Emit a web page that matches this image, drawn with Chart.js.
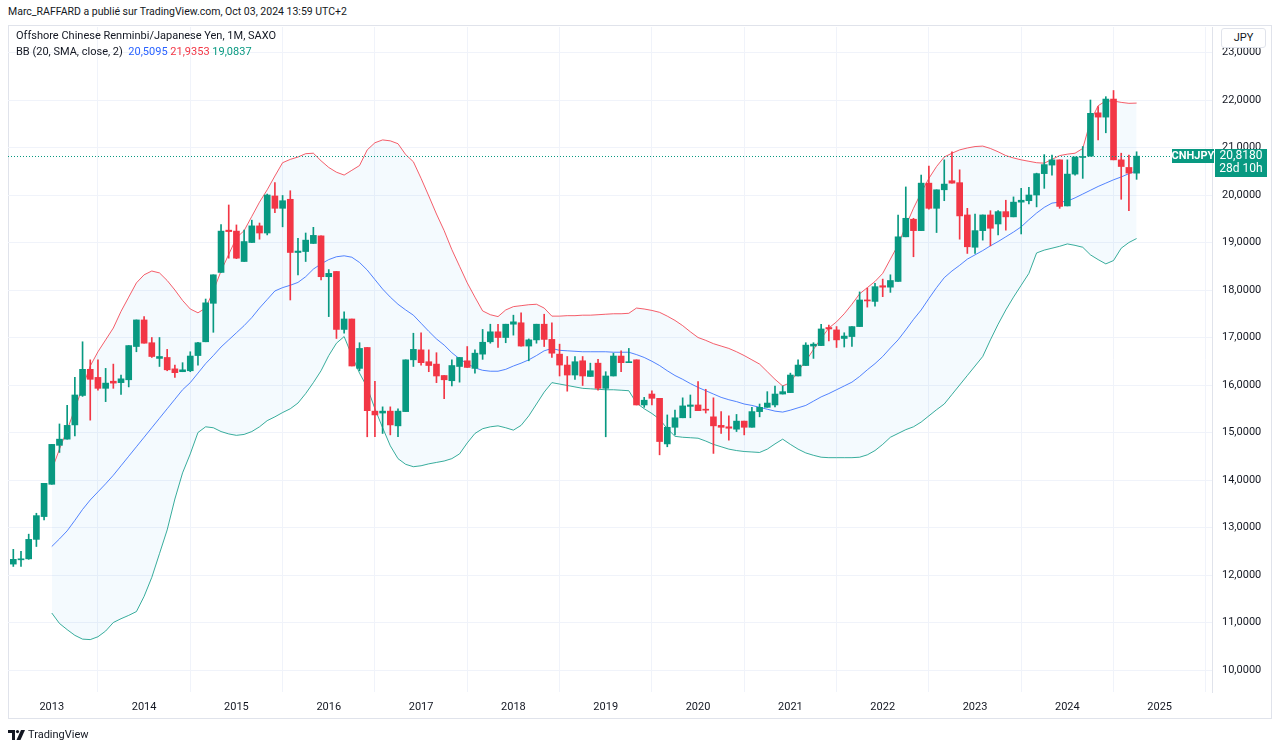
<!DOCTYPE html>
<html>
<head>
<meta charset="utf-8">
<script src="https://cdn.jsdelivr.net/npm/chart.js@4.4.1/dist/chart.umd.min.js"></script>
<style>
  html, body { margin:0; padding:0; background:#fff; width:1280px; height:750px; overflow:hidden;
    font-family: Roboto, "Liberation Sans", sans-serif; color:#131722; }
  #head { position:absolute; left:8px; top:5px; font-size:10.5px; color:#131722; white-space:nowrap; }
  #frame { position:absolute; left:8px; top:25px; width:1264px; height:694px; border:1px solid #E0E3EB; box-sizing:border-box; }
  #cv { position:absolute; left:0; top:0; }
  #legend { position:absolute; left:16px; top:28px; font-size:11px; line-height:16px; white-space:nowrap; }
  #unit { position:absolute; left:1221px; top:28px; width:45px; height:20px; background:#fff; border:1px solid #E0E3EB;
    border-radius:3px; box-sizing:border-box; font-size:11px; line-height:18px; text-align:center; }
  #logo { position:absolute; left:8px; top:728px; font-size:11px; display:flex; align-items:center; gap:3px; }
</style>
</head>
<body>
<div id="head">Marc_RAFFARD a publié sur TradingView.com, Oct 03, 2024 13:59 UTC+2</div>
<div id="frame"></div>
<canvas id="cv" width="1280" height="750"></canvas>
<div id="legend">
  <div>Offshore Chinese Renminbi/Japanese Yen, 1M, SAXO</div>
  <div>BB (20, SMA, close, 2) &nbsp;<span id="lgB" style="color:#2962FF"></span> <span id="lgU" style="color:#F23645"></span> <span id="lgL" style="color:#089981"></span></div>
</div>
<div id="unit">JPY</div>
<div id="logo">
  <svg width="17" height="10" viewBox="0 0 17 10"><path d="M0 0h7v10H4V3H0z" fill="#131722"/><circle cx="9.5" cy="1.6" r="1.6" fill="#131722"/><path d="M13 0h4l-4.5 10H8.5z" fill="#131722"/></svg>
  <span>TradingView</span>
</div>
<script>
// monthly candles, Aug 2012 .. Oct 2024 (month 0 = Jan 2013)
const FIRST_MONTH = -5;
const opens = [
  12.23,12.32,12.34,12.75,13.23,
  13.91,14.73,14.86,15.16,15.78,16.33,16.16,15.93,16.08,16.05,16.11,16.81,
  17.37,16.89,16.56,16.58,16.34,16.28,16.30,16.62,16.91,17.72,18.37,19.26,
  19.24,18.60,19.00,19.35,19.20,19.98,19.72,19.91,18.79,18.81,18.98,19.14,
  18.28,18.39,17.17,17.39,16.35,16.79,15.45,15.41,15.45,15.14,15.44,16.53,
  16.74,16.49,16.44,16.20,16.09,16.39,16.51,16.35,16.65,16.91,17.12,17.00,
  17.28,17.31,16.82,16.95,17.28,16.96,16.65,16.42,16.21,16.51,16.18,16.46,
  15.93,16.19,16.61,16.47,16.53,15.58,15.81,15.72,14.76,15.11,15.31,15.55,
  15.58,15.49,15.33,15.15,15.12,15.07,15.24,15.11,15.44,15.53,15.58,15.81,
  15.84,16.19,16.41,16.82,16.83,17.21,17.16,16.98,17.02,17.23,17.79,17.76,
  18.09,18.06,18.18,19.12,19.49,19.25,20.25,19.72,20.11,20.30,20.26,19.58,
  18.90,19.25,19.58,19.39,19.65,19.54,19.85,19.88,20.00,20.45,20.63,20.74,
  19.77,20.44,20.79,20.82,21.73,21.64,22.02,20.74,20.58,20.46
];
const highs = [
  12.54,12.50,12.86,13.30,13.93,
  14.75,15.18,15.57,16.16,16.91,16.53,16.53,16.35,16.44,16.21,16.83,17.37,
  17.44,17.00,17.00,16.75,16.42,16.47,16.70,16.90,17.81,18.32,19.38,19.79,
  19.37,19.26,19.47,19.41,20.02,20.26,19.99,20.09,19.09,19.20,19.32,19.14,
  18.43,18.39,17.54,17.39,16.89,16.79,16.08,15.54,15.54,15.50,16.53,17.09,
  17.10,16.74,16.68,16.20,16.53,16.58,16.81,16.74,17.17,17.28,17.28,17.28,
  17.47,17.52,16.97,17.28,17.49,17.31,16.86,16.60,16.60,16.60,16.46,16.54,
  16.28,16.67,16.72,16.77,16.53,15.74,15.88,15.72,15.37,15.47,15.73,15.79,
  16.07,15.91,15.73,15.44,15.35,15.38,15.24,15.53,15.60,15.86,15.98,15.98,
  16.25,16.53,16.89,16.89,17.28,17.26,17.23,17.10,17.23,17.96,18.04,18.14,
  18.23,18.32,19.58,20.17,19.51,20.42,20.61,20.11,20.74,20.91,20.53,19.72,
  19.60,19.58,19.67,19.67,19.89,19.96,20.14,20.16,20.46,20.85,20.84,20.74,
  20.74,20.80,21.02,22.00,21.86,22.07,22.20,20.88,20.84,20.91
];
const lows = [
  12.18,12.18,12.33,12.60,13.16,
  13.91,14.58,14.86,14.93,15.76,15.26,15.89,15.65,15.93,15.80,15.96,16.70,
  16.88,16.58,16.39,16.30,16.16,16.28,16.28,16.42,16.91,17.11,18.37,18.67,
  18.66,18.60,19.00,19.07,19.16,19.63,19.33,17.79,18.32,18.60,18.98,18.21,
  17.44,16.98,17.09,16.40,16.30,14.91,14.91,14.98,14.95,14.91,15.44,16.39,
  16.42,16.28,16.05,15.71,15.98,16.06,16.37,16.25,16.54,16.88,16.79,16.89,
  17.05,16.82,16.51,16.88,16.81,16.58,16.19,15.87,16.12,15.99,16.18,15.89,
  14.91,16.19,16.28,16.47,15.58,15.53,15.58,14.53,14.70,14.95,15.31,15.31,
  15.46,15.41,14.56,14.98,14.84,15.02,14.95,15.11,15.33,15.53,15.54,15.81,
  15.84,16.19,16.41,16.56,16.83,16.93,16.79,16.80,16.81,17.23,17.64,17.66,
  17.86,17.95,18.18,19.12,18.70,19.25,19.70,19.21,19.88,20.25,19.07,18.77,
  18.77,19.05,18.93,19.16,19.26,19.54,19.18,19.81,19.75,20.14,20.42,19.72,
  19.77,20.42,20.35,20.82,21.16,21.31,20.74,19.91,19.67,20.33
];
const closes = [
  12.33,12.34,12.75,13.25,13.93,
  14.75,14.86,15.15,15.79,16.33,16.12,15.93,16.04,16.04,16.13,16.83,17.37,
  16.88,16.60,16.60,16.32,16.26,16.32,16.61,16.89,17.73,18.32,19.24,19.23,
  18.67,19.02,19.35,19.20,20.00,19.72,19.88,18.79,18.82,19.05,19.15,18.28,
  18.35,17.17,17.39,16.40,16.77,15.46,15.37,15.45,15.16,15.45,16.53,16.75,
  16.47,16.41,16.19,16.11,16.41,16.58,16.37,16.67,16.90,17.12,17.00,17.28,
  17.33,16.82,16.95,17.28,16.96,16.67,16.42,16.21,16.49,16.19,16.30,15.93,
  16.19,16.61,16.47,16.49,15.58,15.68,15.72,14.81,15.11,15.31,15.56,15.58,
  15.46,15.47,15.14,15.11,15.09,15.24,15.11,15.44,15.53,15.62,15.81,15.86,
  16.21,16.42,16.84,16.86,17.18,17.18,16.95,17.03,17.23,17.79,17.77,18.07,
  18.06,18.20,19.12,19.51,19.25,20.25,19.72,20.11,20.23,20.25,19.56,18.91,
  19.25,19.58,19.30,19.65,19.54,19.85,19.89,20.00,20.45,20.64,20.74,19.76,
  20.44,20.80,20.81,21.72,21.64,22.02,20.74,20.60,20.46,20.818
];

// Bollinger bands as drawn, Jan 2013 .. Oct 2024
const bbUpper = [
  14.21,14.65,15.05,15.50,15.95,16.40,16.70,16.95,17.20,17.55,17.85,18.15,
  18.32,18.40,18.36,18.20,18.00,17.78,17.60,17.52,17.62,17.98,18.40,18.75,
  19.10,19.25,19.55,19.85,20.11,20.40,20.68,20.75,20.80,20.87,20.88,20.72,
  20.58,20.48,20.42,20.52,20.62,20.95,21.10,21.16,21.14,21.08,20.85,20.70,
  20.35,19.98,19.60,19.25,18.85,18.50,18.15,17.85,17.56,17.48,17.44,17.58,
  17.65,17.67,17.69,17.70,17.62,17.45,17.45,17.46,17.46,17.47,17.47,17.48,
  17.49,17.50,17.50,17.51,17.62,17.60,17.57,17.53,17.45,17.36,17.25,17.12,
  17.00,16.94,16.87,16.82,16.77,16.70,16.62,16.53,16.44,16.28,16.12,15.98,
  16.05,16.30,16.50,16.75,16.98,17.20,17.33,17.50,17.70,17.92,18.05,18.18,
  18.35,18.65,18.95,19.35,19.72,20.05,20.35,20.60,20.80,20.88,20.95,20.99,
  21.02,21.03,20.98,20.91,20.83,20.78,20.74,20.71,20.68,20.67,20.75,20.83,
  20.86,20.88,20.98,21.55,21.88,21.98,21.98,21.95,21.93,21.9353
];
const bbBasis = [
  12.60,12.76,12.93,13.15,13.38,13.58,13.75,13.92,14.10,14.30,14.50,14.70,
  14.90,15.10,15.30,15.50,15.70,15.90,16.05,16.25,16.45,16.62,16.80,16.95,
  17.10,17.25,17.42,17.62,17.80,17.98,18.05,18.10,18.16,18.28,18.44,18.55,
  18.64,18.70,18.72,18.69,18.58,18.42,18.22,18.02,17.85,17.70,17.58,17.47,
  17.30,17.13,16.97,16.84,16.68,16.55,16.45,16.36,16.31,16.29,16.29,16.33,
  16.40,16.46,16.53,16.62,16.72,16.77,16.73,16.72,16.71,16.70,16.70,16.70,
  16.70,16.69,16.69,16.69,16.64,16.58,16.50,16.41,16.30,16.20,16.12,16.03,
  15.95,15.88,15.81,15.74,15.69,15.65,15.60,15.57,15.53,15.49,15.45,15.43,
  15.47,15.52,15.57,15.66,15.75,15.82,15.90,15.98,16.06,16.18,16.32,16.45,
  16.60,16.78,16.95,17.16,17.38,17.58,17.82,18.05,18.26,18.40,18.52,18.65,
  18.74,18.83,18.93,19.02,19.12,19.22,19.33,19.48,19.62,19.74,19.83,19.85,
  19.87,19.94,20.02,20.10,20.18,20.25,20.32,20.38,20.45,20.5095
];
const bbLower = [
  11.20,10.98,10.85,10.73,10.65,10.64,10.70,10.82,11.00,11.08,11.15,11.23,
  11.55,11.95,12.45,12.95,13.60,14.15,14.55,15.00,15.12,15.10,15.02,14.97,
  14.94,14.96,15.02,15.12,15.25,15.33,15.42,15.50,15.62,15.82,16.05,16.30,
  16.62,16.88,17.02,16.62,16.25,15.95,15.50,15.10,14.72,14.45,14.33,14.28,
  14.30,14.34,14.37,14.40,14.45,14.55,14.78,14.98,15.08,15.12,15.14,15.10,
  15.05,15.15,15.35,15.60,15.85,16.05,16.02,15.99,15.96,15.93,15.92,15.91,
  15.90,15.90,15.89,15.88,15.62,15.50,15.40,15.28,15.08,14.92,14.90,14.89,
  14.88,14.82,14.75,14.70,14.65,14.62,14.60,14.59,14.58,14.65,14.76,14.86,
  14.75,14.65,14.57,14.52,14.48,14.47,14.47,14.47,14.47,14.48,14.53,14.62,
  14.75,14.90,14.98,15.06,15.12,15.22,15.35,15.48,15.60,15.80,16.00,16.20,
  16.40,16.60,16.95,17.28,17.58,17.85,18.10,18.35,18.78,18.84,18.88,18.92,
  18.97,18.94,18.90,18.74,18.64,18.55,18.62,18.88,19.00,19.0837
];

const yearTicks = [2013, 2014, 2015, 2016, 2017, 2018, 2019, 2020, 2021, 2022, 2023, 2024, 2025];
const priceTicks = [10, 11, 12, 13, 14, 15, 16, 17, 18, 19, 20, 21, 22, 23];
const symbol = 'CNHJPY';
const countdown = '28d 10h';

const UP = '#089981', DOWN = '#F23645';
const fmt = v => v.toFixed(4).replace('.', ',');

const bodies = opens.map((o, i) => ({ x: FIRST_MONTH + i, y: [o, closes[i]] }));
const wicks = lows.map((l, i) => ({ x: FIRST_MONTH + i, y: [l, highs[i]] }));
const candleColors = opens.map((o, i) => closes[i] >= o ? UP : DOWN);
const band = arr => arr.map((v, i) => ({ x: i, y: v }));

document.getElementById('lgB').textContent = fmt(bbBasis[bbBasis.length - 1]);
document.getElementById('lgU').textContent = fmt(bbUpper[bbUpper.length - 1]);
document.getElementById('lgL').textContent = fmt(bbLower[bbLower.length - 1]);

// last price line + axis labels
const lastPrice = {
  id: 'lastPrice',
  afterDatasetsDraw(chart) {
    const { ctx, chartArea: a, scales: { y } } = chart;
    const py = Math.round(y.getPixelForValue(closes[closes.length - 1])) + 0.5;
    ctx.save();
    ctx.strokeStyle = UP;
    ctx.lineWidth = 1;
    ctx.setLineDash([1, 2]);
    ctx.beginPath();
    ctx.moveTo(a.left, py);
    ctx.lineTo(a.right, py);
    ctx.stroke();
    ctx.restore();
  },
  afterDraw(chart) {
    const { ctx, chartArea: a, scales: { y } } = chart;
    const py = Math.round(y.getPixelForValue(closes[closes.length - 1]));
    ctx.save();
    ctx.fillStyle = UP;
    ctx.fillRect(a.right + 3, py - 7, 52, 28);
    ctx.fillRect(a.right - 40, py - 7, 42, 14);
    ctx.fillStyle = '#fff';
    ctx.textBaseline = 'middle';
    ctx.textAlign = 'center';
    ctx.font = 'bold 11px Roboto, "Liberation Sans", sans-serif';
    ctx.fillText(symbol, a.right - 19, py);
    ctx.font = '12px Roboto, "Liberation Sans", sans-serif';
    ctx.fillText(fmt(closes[closes.length - 1]), a.right + 29, py);
    ctx.fillText(countdown, a.right + 29, py + 13);
    ctx.restore();
  }
};

new Chart(document.getElementById('cv'), {
  type: 'bar',
  data: {
    datasets: [
      { type: 'line', data: band(bbUpper), borderColor: 'rgba(242,54,69,0.8)', borderWidth: 1, pointRadius: 0,
        fill: { target: '+2' }, backgroundColor: 'rgba(33,150,243,0.05)', order: 2 },
      { type: 'line', data: band(bbBasis), borderColor: 'rgba(41,98,255,0.8)', borderWidth: 1, pointRadius: 0, fill: false, order: 2 },
      { type: 'line', data: band(bbLower), borderColor: 'rgba(8,153,129,0.8)', borderWidth: 1, pointRadius: 0, fill: false, order: 2 },
      { data: wicks, backgroundColor: candleColors, barThickness: 1, grouped: false, order: 1 },
      { data: bodies, backgroundColor: candleColors, barThickness: 6, minBarLength: 1, grouped: false, order: 0 }
    ]
  },
  options: {
    responsive: false,
    animation: false,
    devicePixelRatio: 1,
    layout: { padding: { left: 8, top: 27, right: 8, bottom: 32 } },
    plugins: { legend: { display: false }, tooltip: { enabled: false } },
    scales: {
      x: {
        type: 'linear', min: -5.69, max: 150.8, offset: false,
        afterFit: s => { s.height = 26; },
        grid: { color: '#F0F3FA', drawTicks: false },
        border: { display: false },
        ticks: {
          stepSize: 12, includeBounds: false, padding: 9, maxRotation: 0, autoSkip: false,
          color: '#131722', font: { size: 11, family: 'Roboto, "Liberation Sans", sans-serif' },
          callback: v => yearTicks[v / 12]
        }
      },
      y: {
        position: 'right', min: 9.537, max: 23.537,
        afterFit: s => { s.width = 60; },
        afterBuildTicks: s => { s.ticks = priceTicks.map(v => ({ value: v })); },
        grid: { color: '#F0F3FA', drawTicks: false },
        border: { display: true, color: '#E0E3EB' },
        ticks: {
          padding: 10, autoSkip: false,
          color: '#131722', font: { size: 11, family: 'Roboto, "Liberation Sans", sans-serif' },
          callback: v => fmt(v)
        }
      }
    }
  },
  plugins: [lastPrice]
});
</script>
</body>
</html>
